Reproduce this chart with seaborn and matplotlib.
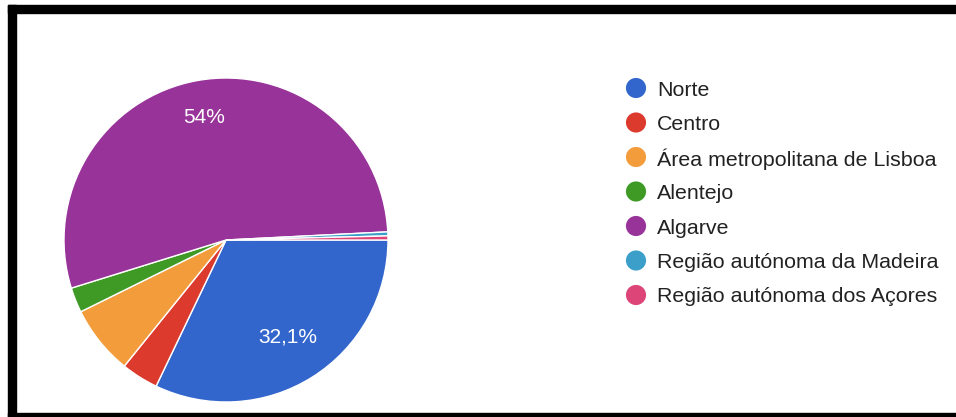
import matplotlib
matplotlib.use("Agg")
import matplotlib.pyplot as plt
from matplotlib.patches import Rectangle
import numpy as np
import seaborn as sns

# dados
regioes = ["Norte", "Centro", "Área metropolitana de Lisboa", "Alentejo",
           "Algarve", "Região autónoma da Madeira", "Região autónoma dos Açores"]
percentagens = [32.1, 3.7, 6.9, 2.5, 54.0, 0.4, 0.4]
rotulos = ["32,1%", "", "", "", "54%", "", ""]
cores = ["#3366cc", "#dc3a2c", "#f39c3c", "#3f9a25", "#983399", "#3b9fc9", "#dd4477"]

sns.set_theme(style="white")
plt.rcParams["font.family"] = ["Liberation Sans", "DejaVu Sans"]
palette = sns.color_palette(cores)

W, H = 956, 417
fig = plt.figure(figsize=(W / 100, H / 100), dpi=100)
fig.patch.set_facecolor("white")

# moldura preta (esquerda, topo, base)
for (x0, y0, w, h) in [(8, 5, 8, 412), (8, 5, 948, 8), (8, 413, 948, 4)]:
    fig.patches.append(Rectangle((x0 / W, 1 - (y0 + h) / H), w / W, h / H,
                                 transform=fig.transFigure, color="black", zorder=0))

# pizza
cx, cy, r = 226, 240, 162
ax = fig.add_axes([(cx - r) / W, 1 - (cy + r) / H, 2 * r / W, 2 * r / H])
wedges, _ = ax.pie(percentagens, colors=palette, startangle=0, counterclock=False,
                   wedgeprops=dict(edgecolor="white", linewidth=1.0))
ax.set_xlim(-1, 1)
ax.set_ylim(-1, 1)
ax.set_aspect("equal")
ax.axis("off")

for w, lab, dist in zip(wedges, rotulos, [0.71, 0, 0, 0, 0.77, 0, 0]):
    if not lab:
        continue
    ang = np.deg2rad((w.theta1 + w.theta2) / 2)
    ax.text(dist * np.cos(ang), dist * np.sin(ang), lab, color="white",
            fontsize=15, ha="center", va="center")

# legenda desenhada à mão, em coordenadas de pixel
lax = fig.add_axes([0, 0, 1, 1])
lax.set_xlim(0, W)
lax.set_ylim(H, 0)
lax.axis("off")
y0, passo = 88, 34.5
for i, (nome, c) in enumerate(zip(regioes, palette)):
    y = y0 + i * passo
    lax.scatter([636], [y], s=14.5 ** 2, color=c, edgecolor="none")
    lax.text(657, y, nome, fontsize=15.4, color="#222222", ha="left", va="center_baseline")

fig.savefig("out.png", dpi=100)
